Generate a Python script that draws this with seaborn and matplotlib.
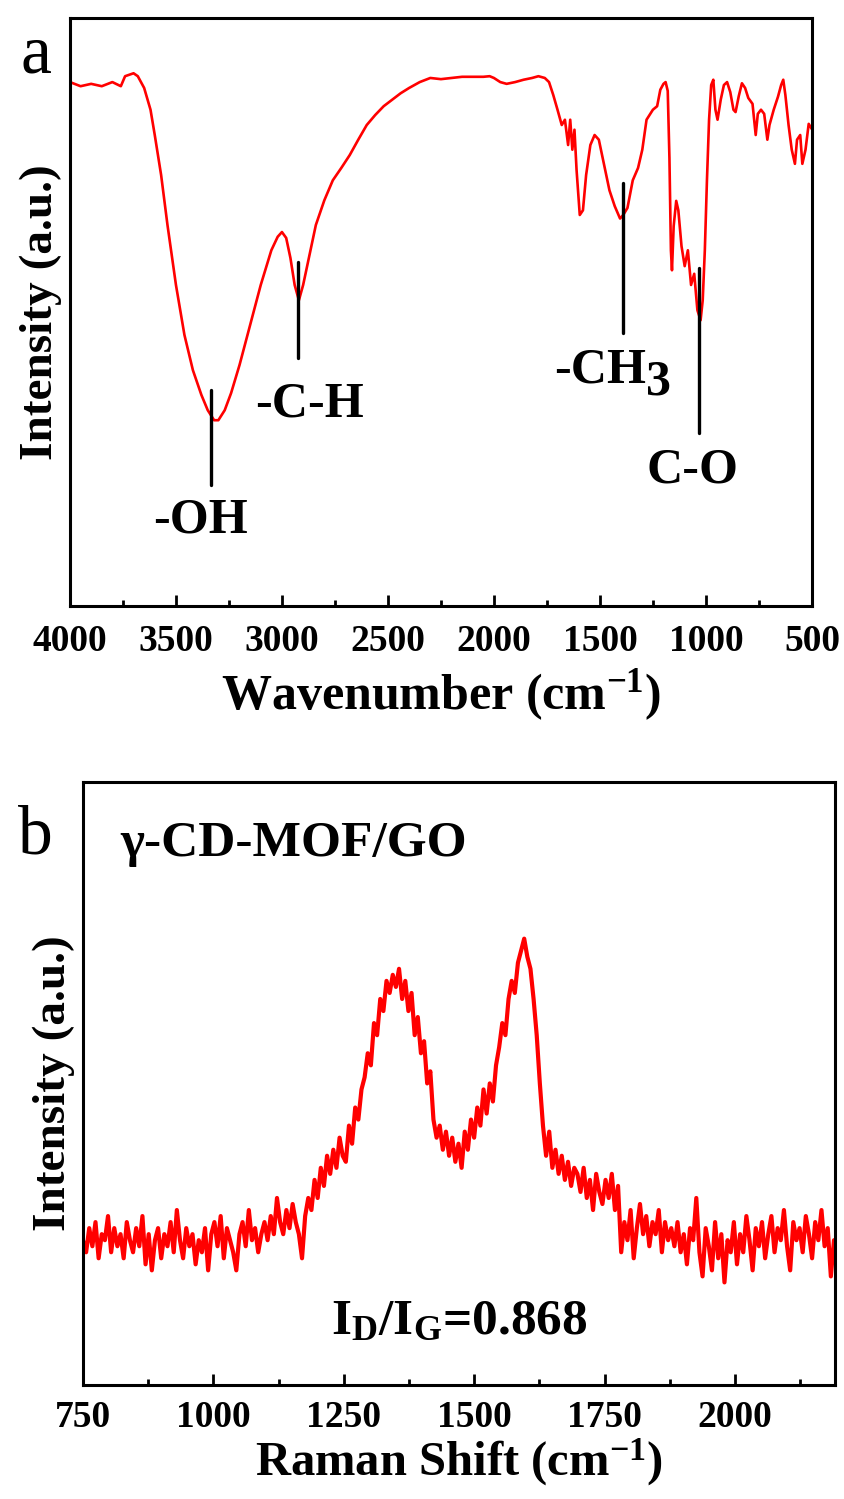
import numpy as np
import matplotlib
matplotlib.use("Agg")
import matplotlib.pyplot as plt
from matplotlib.ticker import MultipleLocator
import seaborn as sns

# ---------------- FTIR data (panel a) ----------------
ftir_wn = [4000, 3950, 3900, 3850, 3800, 3760, 3740, 3700, 3680, 3650, 3620, 3600, 3570, 3540,
           3500, 3460, 3420, 3380, 3350, 3320, 3300, 3270, 3240, 3200, 3150, 3100, 3050, 3020,
           3000, 2980, 2960, 2940, 2920, 2900, 2870, 2840, 2800, 2760, 2720, 2680, 2640, 2600,
           2560, 2520, 2480, 2440, 2400, 2350, 2300, 2250, 2200, 2150, 2100, 2050, 2020, 2000,
           1970, 1940, 1900, 1860, 1820, 1790, 1760, 1740, 1720, 1700, 1680, 1665, 1650, 1640,
           1630, 1620, 1610, 1595, 1580, 1565, 1545, 1525, 1505, 1480, 1455, 1430, 1405, 1390,
           1370, 1345, 1320, 1300, 1280, 1250, 1230, 1215, 1200, 1190, 1180, 1172, 1165, 1160,
           1152, 1140, 1130, 1115, 1100, 1085, 1070, 1055, 1040, 1025, 1015, 1005, 995, 985,
           975, 965, 955, 945, 930, 915, 900, 885, 870, 860, 845, 830, 815, 800, 780, 765,
           755, 740, 725, 710, 700, 680, 660, 645, 635, 625, 610, 595, 580, 570, 555, 545,
           530, 515, 500]
ftir_int = [89.1, 88.4, 88.8, 88.4, 89.1, 88.4, 90.1, 90.6, 90.1, 88.1, 84.4, 80.1, 73.3, 64.8,
            54.6, 46.1, 40.1, 35.9, 33.3, 31.6, 31.6, 33.3, 36.2, 41.0, 47.8, 54.6, 60.5, 62.8,
            63.6, 62.6, 59.2, 54.6, 52.0, 54.6, 59.7, 64.8, 69.0, 72.4, 74.5, 76.7, 79.3, 81.8,
            83.5, 85.0, 86.1, 87.2, 88.1, 89.1, 89.8, 89.6, 89.8, 90.0, 90.0, 90.0, 90.1, 89.8,
            89.1, 88.8, 89.1, 89.5, 89.8, 90.1, 89.8, 89.1, 86.9, 84.4, 81.8, 82.7, 78.4, 82.7,
            77.6, 81.0, 74.1, 66.5, 67.3, 73.3, 78.4, 80.1, 79.3, 75.0, 70.7, 68.0, 65.9, 66.5,
            67.7, 72.4, 74.5, 77.6, 82.7, 84.4, 85.0, 87.8, 88.8, 89.1, 87.6, 76.2, 60.5, 57.1,
            64.6, 68.9, 67.3, 61.2, 57.8, 60.5, 54.6, 56.5, 50.3, 48.6, 52.0, 60.5, 72.4, 82.7,
            88.6, 89.5, 84.4, 82.7, 86.1, 88.6, 89.1, 87.4, 84.4, 84.0, 86.7, 88.9, 88.1, 86.4, 85.4, 80.1,
            83.7, 84.4, 83.7, 79.3, 81.8, 84.4, 86.6, 88.6, 89.5, 86.9, 81.8, 77.6, 75.2, 79.3, 80.1, 75.2,
            77.6, 82.0, 81.1]

# peak annotations (panel a)
peak_labels = ["-OH", "-C-H", "C-O"]
peak_text_x = [3386, 2868, 1065]
peak_text_y = [14.6, 34.2, 23.0]
peak_wn = [3335, 2925, 1392, 1033]
peak_line_lo = [20.6, 42.2, 46.4, 29.4]
peak_line_hi = [36.7, 58.5, 71.9, 57.5]

# ---------------- Raman data (panel b) ----------------
raman_shift = list(range(750, 2191, 6))
raman_int = [
    24, 22, 26, 23, 27, 21, 25, 24, 28, 22,
    26, 23, 25, 21, 27, 24, 22, 26, 23, 28,
    20, 25, 19, 24, 26, 21, 25, 23, 27, 22,
    29, 24, 21, 26, 23, 25, 20, 24, 22, 26,
    19, 25, 27, 23, 28, 21, 26, 24, 22, 19,
    25, 27, 23, 29, 24, 26, 22, 25, 27, 24,
    28, 25, 31, 27, 25, 29, 26, 30, 27, 25,
    21, 28, 31, 29, 34, 31, 36, 33, 38, 35,
    39, 36, 41, 38, 37, 43, 40, 46, 44, 49,
    51, 55, 53, 60, 58, 64, 62, 67, 65, 68,
    66, 69, 64, 67, 62, 65, 58, 61, 55, 57,
    50, 52, 44, 41, 43, 39, 42, 38, 41, 37,
    40, 36, 42, 39, 44, 41, 46, 43, 49, 45,
    50, 47, 53, 56, 60, 58, 64, 67, 65, 70,
    72, 74, 71, 69, 64, 58, 50, 43, 38, 42,
    36, 39, 35, 38, 34, 37, 33, 36, 35, 32,
    36, 31, 34, 29, 35, 32, 30, 34, 31, 35,
    29, 33, 22, 27, 24, 29, 21, 26, 30, 25,
    28, 23, 27, 25, 29, 22, 27, 24, 26, 23,
    27, 22, 25, 20, 26, 24, 31, 22, 18, 26,
    23, 19, 27, 21, 25, 17, 24, 22, 27, 20,
    25, 22, 28, 24, 19, 26, 23, 27, 21, 25,
    28, 22, 26, 24, 29, 23, 19, 27, 24, 26,
    22, 28, 25, 21, 27, 24, 29, 23, 26, 18,
    24]

# ---------------- styling ----------------
sns.set_style("ticks")
plt.rcParams["font.family"] = ["Liberation Serif", "DejaVu Serif"]
plt.rcParams["font.weight"] = "bold"
plt.rcParams["text.color"] = "black"
plt.rcParams["axes.labelcolor"] = "black"
plt.rcParams["xtick.color"] = "black"
plt.rcParams["ytick.color"] = "black"
plt.rcParams["mathtext.fontset"] = "custom"
plt.rcParams["mathtext.rm"] = "Liberation Serif:bold"
plt.rcParams["mathtext.bf"] = "Liberation Serif:bold"
plt.rcParams["mathtext.it"] = "Liberation Serif:bold"
plt.rcParams["mathtext.default"] = "regular"

fig = plt.figure(figsize=(8.45, 14.99), dpi=100)
ax1 = fig.add_axes([0.0828, 0.5957, 0.878, 0.3923])
ax2 = fig.add_axes([0.0982, 0.0761, 0.890, 0.4023])

def style(ax, pad):
    for s in ax.spines.values():
        s.set_linewidth(2.2)
        s.set_color("black")
    ax.tick_params(axis="x", which="major", direction="in", length=8, width=2,
                   labelsize=27, pad=pad, top=False, colors="black")
    ax.tick_params(axis="x", which="minor", direction="in", length=4.5, width=2, top=False)
    ax.tick_params(axis="y", which="both", left=False, right=False, labelleft=False)
    for lab in ax.get_xticklabels():
        lab.set_fontweight("bold")

# Panel a
sns.lineplot(x=ftir_wn, y=ftir_int, ax=ax1, color="#ff0000", linewidth=1.9, sort=False)
ax1.set_xlim(4000, 500)
ax1.set_ylim(0, 100)
ax1.xaxis.set_major_locator(MultipleLocator(500))
ax1.xaxis.set_minor_locator(MultipleLocator(250))
style(ax1, 13)
ax1.set_xlabel("Wavenumber (cm$^{-1}$)", fontsize=36, fontweight="bold", labelpad=6)
ax1.set_ylabel("Intensity (a.u.)", fontsize=34, fontweight="bold", labelpad=6)
for i in range(len(peak_wn)):
    ax1.plot([peak_wn[i], peak_wn[i]], [peak_line_lo[i], peak_line_hi[i]],
             color="black", linewidth=2.4)
for i, lab in enumerate(peak_labels):
    ax1.text(peak_text_x[i], peak_text_y[i], lab, fontsize=36, fontweight="bold",
             ha="center", va="center")
ax1.text(1283, 40.0, "-CH", fontsize=36, fontweight="bold", ha="right", va="center")
ax1.text(1283, 38.0, "3", fontsize=36, fontweight="bold", ha="left", va="center")
fig.text(0.042, 0.963, "a", fontsize=50, fontweight="normal", ha="center", va="center")

# Panel b
sns.lineplot(x=raman_shift, y=raman_int, ax=ax2, color="#ff0000", linewidth=3.0, sort=False)
ax2.set_xlim(750, 2192)
ax2.set_ylim(0, 100)
ax2.xaxis.set_major_locator(MultipleLocator(250))
ax2.xaxis.set_minor_locator(MultipleLocator(125))
style(ax2, 11)
ax2.set_xlabel("Raman Shift (cm$^{-1}$)", fontsize=35, fontweight="bold", labelpad=1)
ax2.set_ylabel("Intensity (a.u.)", fontsize=34, fontweight="bold", labelpad=6)
ax2.text(0.05, 0.897, "γ-CD-MOF/GO", transform=ax2.transAxes, fontsize=37,
         fontweight="bold", ha="left", va="center")
ax2.text(0.5, 0.105, "I$_{D}$/I$_{G}$=0.868", transform=ax2.transAxes, fontsize=37,
         fontweight="bold", ha="center", va="center")
fig.text(0.042, 0.442, "b", fontsize=50, fontweight="normal", ha="center", va="center")

fig.savefig("out.png", dpi=100)
